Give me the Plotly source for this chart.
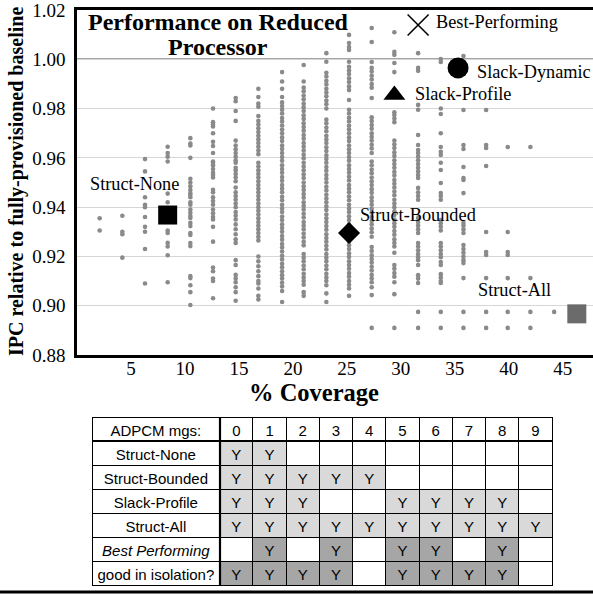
import plotly.graph_objects as go

W, H = 593, 594

# ---------------- scatter data ----------------
coverage = [2.1, 4.2, 6.3, 8.4, 10.5, 12.6, 14.7, 16.8, 19.0, 21.0, 23.1,
            25.2, 27.3, 29.4, 31.6, 33.7, 35.8, 37.9, 39.9, 42.0, 44.2]

ipc_c01 = [0.9355, 0.9305]
ipc_c02 = [0.9365, 0.930, 0.929, 0.9195]
ipc_c03 = [0.9595, 0.9545, 0.944, 0.941, 0.940, 0.936, 0.932, 0.930, 0.923, 0.909]
ipc_c04 = [0.9645, 0.962, 0.9605, 0.9585, 0.9455, 0.942, 0.938, 0.935, 0.9305,
           0.9295, 0.9255, 0.924, 0.9205, 0.9095]
ipc_c05 = [0.968, 0.9658, 0.965, 0.960, 0.9515, 0.950, 0.9485, 0.947, 0.9457, 0.945,
           0.944, 0.942, 0.941, 0.939, 0.9377, 0.9364, 0.9356, 0.9336, 0.9323, 0.9295,
           0.9287, 0.9254, 0.9242, 0.912, 0.9112, 0.9083, 0.9055, 0.9003]
ipc_c06 = [0.980, 0.9745, 0.9735, 0.9727, 0.970, 0.9665, 0.9648, 0.962, 0.9585, 0.958,
           0.957, 0.9555, 0.954, 0.953, 0.952, 0.947, 0.946, 0.944, 0.9425, 0.941,
           0.939, 0.9375, 0.936, 0.935, 0.932, 0.926, 0.9155, 0.914, 0.911, 0.910, 0.903]
ipc_c07 = [0.9843, 0.983, 0.979, 0.975, 0.967, 0.965, 0.9635, 0.962, 0.9605, 0.959,
           0.958, 0.956, 0.955, 0.9535, 0.952, 0.9505, 0.948, 0.946, 0.9445, 0.943,
           0.9415, 0.940, 0.938, 0.9365, 0.935, 0.933, 0.931, 0.929, 0.927, 0.9255,
           0.9185, 0.9165, 0.9125, 0.911, 0.9095, 0.9075, 0.9055, 0.902]
ipc_c08 = [0.988, 0.9847, 0.982, 0.9807, 0.977, 0.975, 0.9735, 0.972, 0.9705, 0.969,
           0.9675, 0.966, 0.9645, 0.963, 0.9615, 0.958, 0.9565, 0.955, 0.9535, 0.952,
           0.9505, 0.949, 0.9475, 0.946, 0.9445, 0.943, 0.9415, 0.940, 0.9385, 0.937,
           0.9355, 0.934, 0.9325, 0.931, 0.9295, 0.928, 0.9265, 0.920, 0.918, 0.916,
           0.914, 0.912, 0.910, 0.909, 0.907, 0.904, 0.9025]
ipc_c09 = [0.9948, 0.991, 0.988, 0.9847, 0.9825, 0.981, 0.9795, 0.978, 0.9762, 0.9748,
           0.9731, 0.9715, 0.970, 0.9683, 0.9668, 0.965, 0.9636, 0.962, 0.9603, 0.9588,
           0.957, 0.9555, 0.954, 0.9522, 0.9507, 0.949, 0.9475, 0.946, 0.9442, 0.9428,
           0.941, 0.9395, 0.938, 0.9362, 0.9348, 0.933, 0.9315, 0.930, 0.9283, 0.9268,
           0.925, 0.9236, 0.922, 0.9203, 0.9188, 0.917, 0.9156, 0.914, 0.9124, 0.911,
           0.9093, 0.9078, 0.906, 0.9015]
ipc_c10 = [0.9977, 0.991, 0.9885, 0.987, 0.9853, 0.9838, 0.982, 0.9805, 0.979, 0.9773,
           0.9758, 0.974, 0.9725, 0.971, 0.9693, 0.9678, 0.966, 0.9645, 0.963, 0.9613,
           0.9598, 0.958, 0.9565, 0.955, 0.9533, 0.9518, 0.950, 0.9485, 0.947, 0.9453,
           0.9438, 0.942, 0.9405, 0.939, 0.9373, 0.9358, 0.934, 0.9325, 0.931, 0.9293,
           0.9278, 0.926, 0.9245, 0.921, 0.9195, 0.918, 0.9163, 0.9148, 0.913, 0.9115,
           0.910, 0.9085, 0.9055, 0.904]
ipc_c11 = [1.0025, 0.999, 0.9945, 0.993, 0.9913, 0.9898, 0.988, 0.9865, 0.985, 0.9833,
           0.9818, 0.980, 0.9755, 0.974, 0.9723, 0.9708, 0.969, 0.9675, 0.966, 0.9643,
           0.9628, 0.961, 0.9595, 0.958, 0.9563, 0.9548, 0.953, 0.9515, 0.950, 0.9483,
           0.9468, 0.945, 0.9435, 0.942, 0.9403, 0.9388, 0.937, 0.9355, 0.934, 0.9323,
           0.9308, 0.929, 0.9275, 0.926, 0.9243, 0.9228, 0.921, 0.9195, 0.918, 0.9163,
           0.9148, 0.913, 0.9115, 0.910, 0.9083, 0.905, 0.9015]
ipc_c12 = [1.0099, 1.0066, 1.005, 1.0038, 0.999, 0.997, 0.9955, 0.994, 0.9923, 0.9908,
           0.989, 0.9875, 0.9835, 0.9795, 0.978, 0.9763, 0.9748, 0.973, 0.9715, 0.970,
           0.9683, 0.9668, 0.965, 0.9635, 0.962, 0.9603, 0.9588, 0.957, 0.9555, 0.954,
           0.9523, 0.9508, 0.949, 0.9475, 0.946, 0.9443, 0.9428, 0.941, 0.9395, 0.938,
           0.9363, 0.9348, 0.933, 0.926, 0.9245, 0.923, 0.9213, 0.9198, 0.918, 0.9165,
           0.915, 0.9133, 0.9118, 0.910, 0.9085, 0.907, 0.904]
ipc_c13 = [1.0127, 1.007, 0.9989, 0.9965, 0.995, 0.9933, 0.9918, 0.990, 0.9885, 0.9843,
           0.9765, 0.975, 0.9733, 0.9718, 0.970, 0.9685, 0.967, 0.9653, 0.9638, 0.962,
           0.9585, 0.957, 0.9553, 0.9538, 0.952, 0.9505, 0.949, 0.9473, 0.9458, 0.944,
           0.9425, 0.941, 0.9393, 0.9378, 0.936, 0.9345, 0.933, 0.9313, 0.9298, 0.928,
           0.9238, 0.9222, 0.9205, 0.919, 0.9175, 0.9158, 0.9143, 0.9125, 0.911, 0.9095,
           0.9075, 0.9043, 0.891]
ipc_c14 = [1.011, 1.003, 1.0018, 0.9985, 0.9948, 0.9785, 0.9774, 0.976, 0.9745, 0.967,
           0.9655, 0.964, 0.9623, 0.9608, 0.959, 0.9575, 0.956, 0.9543, 0.9528, 0.951,
           0.9495, 0.948, 0.9463, 0.9448, 0.943, 0.9415, 0.940, 0.9383, 0.9368, 0.935,
           0.9335, 0.932, 0.9303, 0.9288, 0.927, 0.9255, 0.924, 0.9215, 0.9165, 0.915,
           0.9133, 0.9118, 0.9095, 0.9047, 0.891]
ipc_c15 = [1.0025, 0.9965, 0.9953, 0.9815, 0.9795, 0.9693, 0.9652, 0.9632, 0.962, 0.9605,
           0.959, 0.9575, 0.956, 0.9545, 0.953, 0.9518, 0.9478, 0.946, 0.9445, 0.943,
           0.9356, 0.934, 0.9325, 0.931, 0.9295, 0.9254, 0.924, 0.9225, 0.921, 0.9197,
           0.9185, 0.9165, 0.9124, 0.911, 0.9092, 0.8975, 0.891]
ipc_c16 = [1.0001, 0.9989, 0.980, 0.9778, 0.970, 0.9644, 0.9625, 0.9612, 0.958, 0.9551,
           0.9498, 0.9457, 0.9445, 0.943, 0.9348, 0.9335, 0.932, 0.9305, 0.9254, 0.924,
           0.9225, 0.921, 0.9197, 0.9177, 0.9165, 0.9128, 0.9115, 0.910, 0.9092, 0.8975,
           0.891]
ipc_c17 = [1.0013, 0.9794, 0.9652, 0.9636, 0.9563, 0.9518, 0.951, 0.9457, 0.9336,
           0.9325, 0.931, 0.9295, 0.9246, 0.923, 0.9215, 0.920, 0.9185, 0.9173, 0.9112,
           0.8975, 0.891]
ipc_c18 = [0.9794, 0.9652, 0.964, 0.9567, 0.9299, 0.9218, 0.9206, 0.9112, 0.8975, 0.891]
ipc_c19 = [0.9644, 0.9299, 0.9218, 0.9206, 0.9112, 0.8975, 0.891]
ipc_c20 = [0.9644, 0.9112, 0.8975, 0.891]
ipc_c21 = [0.8975]

ipc_cols = [ipc_c01, ipc_c02, ipc_c03, ipc_c04, ipc_c05, ipc_c06, ipc_c07, ipc_c08,
            ipc_c09, ipc_c10, ipc_c11, ipc_c12, ipc_c13, ipc_c14, ipc_c15, ipc_c16,
            ipc_c17, ipc_c18, ipc_c19, ipc_c20, ipc_c21]

# highlighted configurations
special_names = ["Best-Performing", "Slack-Dynamic", "Slack-Profile",
                 "Struct-None", "Struct-Bounded", "Struct-All"]
special_x = [31.6, 35.3, 29.4, 8.4, 25.2, 46.3]
special_y = [1.0139, 0.9965, 0.9855, 0.9368, 0.9295, 0.8967]
special_symbol = ["x-thin-open", "circle", "triangle-up", "square", "diamond", "square"]
special_size = [21, 21, 19, 19, 17, 19]
special_color = ["black", "black", "black", "black", "black", "#6b6b6b"]

# label positions (text anchored at its left edge)
label_x = [33.1, 36.85, 31.1, 1.02, 26.0, 37.0]
label_y = [1.0151, 0.9948, 0.9859, 0.9494, 0.9368, 0.9063]

# ---------------- table data ----------------
NB = "\u00a0"
mgs = list(range(10))
row_names = ["Struct-None", "Struct-Bounded", "Slack-Profile", "Struct-All",
             "Best" + NB + "Performing", "good" + NB + "in" + NB + "isolation?"]
row_members = [[0, 1], [0, 1, 2, 3, 4], [0, 1, 2, 5, 6, 7, 8], [0, 1, 2, 3, 4, 5, 6, 7, 8, 9],
               [1, 3, 5, 6, 8], [0, 1, 2, 3, 5, 6, 7, 8]]
row_shade = ["#d9d9d9", "#d9d9d9", "#d9d9d9", "#d9d9d9", "#a6a6a6", "#a6a6a6"]

SERIF = "Liberation Serif"
SANS = "Liberation Sans"

fig = go.Figure()

xs, ys = [], []
for c, vals in zip(coverage, ipc_cols):
    xs += [c] * len(vals)
    ys += vals
fig.add_trace(go.Scatter(x=xs, y=ys, mode="markers",
                         marker=dict(size=4.6, color="#8a8a8a"),
                         hoverinfo="skip", showlegend=False))

for i in range(len(special_names)):
    sym = special_symbol[i]
    if sym.endswith("open"):
        mk = dict(symbol=sym, size=special_size[i], color=special_color[i],
                  line=dict(width=1.6, color=special_color[i]))
    else:
        mk = dict(symbol=sym, size=special_size[i], color=special_color[i],
                  line=dict(width=0))
    fig.add_trace(go.Scatter(x=[special_x[i]], y=[special_y[i]], mode="markers",
                             marker=mk, hoverinfo="skip", showlegend=False))

annotations = []
for i in range(len(special_names)):
    annotations.append(dict(x=label_x[i], y=label_y[i], xref="x", yref="y",
                            text=special_names[i], showarrow=False,
                            xanchor="left", yanchor="middle",
                            font=dict(family=SERIF, size=18.3, color="black")))

# title (two lines)
annotations.append(dict(x=13.1, y=1.0151, xref="x", yref="y",
                        text="<b>Performance on Reduced</b>", showarrow=False,
                        xanchor="center", yanchor="middle",
                        font=dict(family=SERIF, size=24, color="black")))
annotations.append(dict(x=13.1, y=1.0050, xref="x", yref="y",
                        text="<b>Processor</b>", showarrow=False,
                        xanchor="center", yanchor="middle",
                        font=dict(family=SERIF, size=24, color="black")))
# axis titles
annotations.append(dict(x=314 / W, y=1 - 392 / H, xref="paper", yref="paper",
                        text="<b>% Coverage</b>", showarrow=False,
                        xanchor="center", yanchor="middle",
                        font=dict(family=SERIF, size=24.5, color="black")))
annotations.append(dict(x=16 / W, y=1 - 182 / H, xref="paper", yref="paper",
                        text="<b>IPC relative to fully-provisioned baseline</b>",
                        showarrow=False, textangle=-90,
                        xanchor="center", yanchor="middle",
                        font=dict(family=SERIF, size=20, color="black")))

# table
cell_values = [row_names]
cell_fill = [["white"] * len(row_names)]
for m in mgs:
    cell_values.append(["Y" if m in mem else "" for mem in row_members])
    cell_fill.append([row_shade[r] if m in row_members[r] else "white"
                      for r in range(len(row_members))])

fig.add_trace(go.Table(
    domain=dict(x=[92 / W, 553 / W], y=[4 / H, 1 - 417 / H]),
    columnwidth=[128] + [33.3] * len(mgs),
    header=dict(values=["ADPCM" + NB + "mgs:"] + [str(m) for m in mgs],
                fill=dict(color="white"), line=dict(color="black", width=1),
                align="center", height=24,
                font=dict(family=SANS, size=15, color="black")),
    cells=dict(values=cell_values, fill=dict(color=cell_fill),
               line=dict(color="black", width=1), align="center", height=24,
               font=dict(family=SANS, size=15, color="black")),
))

shapes = [
    # dark baseline line at 1.00
    dict(type="line", xref="x", yref="y", x0=0, x1=47.8, y0=1.0, y1=1.0,
         line=dict(color="#4a4a4a", width=1.5), layer="below"),
    # thick line under table header
    dict(type="line", xref="paper", yref="paper", x0=92 / W, x1=553 / W,
         y0=1 - 441 / H, y1=1 - 441 / H, line=dict(color="black", width=2.2)),
    # thick line after label column
    dict(type="line", xref="paper", yref="paper", x0=220 / W, x1=220 / W,
         y0=1 - 417 / H, y1=1 - 585 / H, line=dict(color="black", width=2.2)),
    # bottom rule
    dict(type="line", xref="paper", yref="paper", x0=0, x1=1,
         y0=1 - 592 / H, y1=1 - 592 / H, line=dict(color="black", width=3)),
]

fig.update_layout(
    width=W, height=H,
    margin=dict(l=0, r=0, t=0, b=0, autoexpand=False),
    paper_bgcolor="white", plot_bgcolor="white",
    showlegend=False,
    xaxis=dict(domain=[77 / W, 1], range=[0, 47.8],
               tickvals=[5, 10, 15, 20, 25, 30, 35, 40, 45],
               showgrid=False, zeroline=False, showline=True, mirror=True,
               linecolor="black", linewidth=2.5, ticks="",
               tickfont=dict(family=SERIF, size=19, color="black"),
               ticklabelstandoff=-6, ticklabeloverflow="allow", automargin=False),
    yaxis=dict(domain=[1 - 355 / H, 1 - 10 / H], range=[0.88, 1.02],
               tickvals=[0.88, 0.90, 0.92, 0.94, 0.96, 0.98, 1.00, 1.02],
               tickformat=".2f",
               showgrid=True, gridcolor="#d6d6d6", gridwidth=1,
               zeroline=False, showline=True, linecolor="black", linewidth=2.5,
               ticks="", tickfont=dict(family=SERIF, size=19, color="black"),
               ticklabelstandoff=5, ticklabeloverflow="allow", automargin=False),
    annotations=annotations,
    shapes=shapes,
)

fig.write_html(
    "out.html",
    config={"displayModeBar": False},
    post_script=(
        "document.body.style.margin='0';document.body.style.padding='0';"
        "document.documentElement.style.overflow='hidden';"
        "document.querySelectorAll('svg text').forEach(function(t){"
        "if(t.textContent==='Best\\u00a0Performing'){t.style.fontStyle='italic';}});"
    ),
)
